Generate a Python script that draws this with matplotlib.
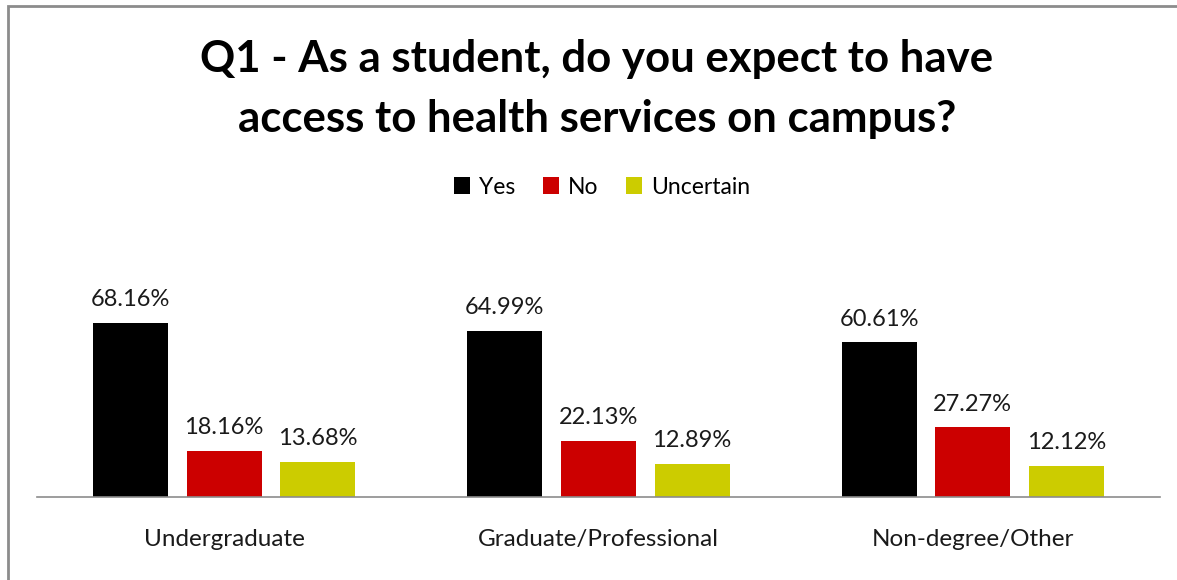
import matplotlib
matplotlib.use('Agg')
import matplotlib.pyplot as plt
from matplotlib.patches import Rectangle
import numpy as np

# Survey data
categories = ['Undergraduate', 'Graduate/Professional', 'Non-degree/Other']
series_names = ['Yes', 'No', 'Uncertain']
yes_values = [68.16, 64.99, 60.61]
no_values = [18.16, 22.13, 27.27]
uncertain_values = [13.68, 12.89, 12.12]
colors = ['#000000', '#CC0000', '#CCCC00']

plt.rcParams['font.family'] = ['Lato', 'DejaVu Sans']

fig = plt.figure(figsize=(11.77, 5.80), dpi=100)
W, H = 1177, 580

# Outer grey frame (left and top visible)
fig.patches.append(Rectangle((7.5 / W, -0.2), 1.5, 1.2 - 5.5 / H,
                             transform=fig.transFigure, fill=False,
                             edgecolor='#8c8c8c', linewidth=2))

ax = fig.add_axes([37 / W, (H - 497) / H, 1123 / W, 255.3 / H])

x = np.arange(len(categories))
width = 0.2
offsets = [-0.25, 0, 0.25]
all_values = [yes_values, no_values, uncertain_values]

for vals, name, col, off in zip(all_values, series_names, colors, offsets):
    bars = ax.bar(x + off, vals, width, color=col, label=name)
    for bar, v in zip(bars, vals):
        ax.annotate(f'{v:.2f}%', (bar.get_x() + bar.get_width() / 2, v),
                    xytext=(0, 12), textcoords='offset points',
                    ha='center', va='baseline', fontsize=17, color='#1a1a1a',
                    annotation_clip=False)

ax.set_xlim(-0.5, 2.5)
ax.set_ylim(0, 100)
ax.set_xticks(x)
ax.set_xticklabels(categories, fontsize=17.5, color='#1a1a1a')
ax.tick_params(axis='x', length=0, pad=23)
ax.set_yticks([])
for s in ['top', 'right', 'left']:
    ax.spines[s].set_visible(False)
ax.spines['bottom'].set_color('#8c8c8c')
ax.spines['bottom'].set_linewidth(1.2)

fig.text(597 / W, 1 - 89 / H, 'Q1 - As a student, do you expect to have\naccess to health services on campus?',
         ha='center', va='center', fontsize=31.5, fontweight='bold', linespacing=1.6)

fig.legend(loc='center', bbox_to_anchor=(602 / W, 1 - 187 / H), ncol=3, frameon=False,
           fontsize=16.5, handlelength=0.7, handleheight=0.7, handletextpad=0.4,
           columnspacing=1.2)

plt.savefig('out.png', dpi=100)
